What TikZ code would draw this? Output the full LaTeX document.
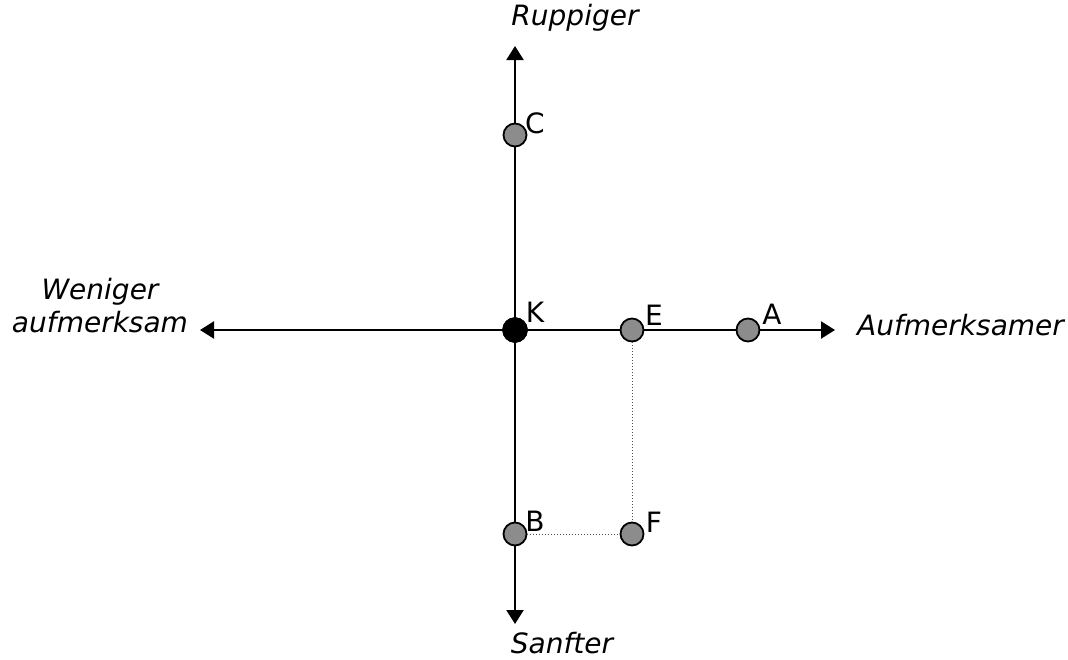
\documentclass[tikz,border=0pt]{standalone}
\usepackage{fontspec}
\setmainfont{DejaVu Sans}
\usetikzlibrary{arrows.meta}
\begin{document}
\begin{tikzpicture}[x=1pt,y=-1pt,
  axis/.style={line width=2.3pt,-{Triangle[length=14pt,width=17pt]}},
  dot/.style={circle,draw=black,line width=1.8pt,fill=black!45,minimum size=23pt,inner sep=0pt},
  kdot/.style={circle,fill=black,draw=black,minimum size=25pt,inner sep=0pt},
  lab/.style={font=\fontsize{28}{32}\selectfont,inner sep=0pt},
  ax/.style={font=\fontsize{28}{33}\selectfont\itshape,inner sep=0pt},
  guide/.style={dotted,line width=1pt,draw=black!70}]
\useasboundingbox (0,0) rectangle (1068,659);
\coordinate (top) at (515,46);
\coordinate (bot) at (515,624);
\coordinate (left) at (200,330);
\coordinate (right) at (835,330);
\node[kdot] (K) at (515,330) {};
\draw[axis] (K.center) -- (top);
\draw[axis] (K.center) -- (bot);
\draw[axis] (K.center) -- (left);
\draw[axis] (K.center) -- (right);
\node[dot] (E) at (632,330) {};
\node[dot] (A) at (748,330) {};
\node[dot] (C) at (515,135) {};
\node[dot] (B) at (515,534) {};
\node[dot] (F) at (632,534) {};
\draw[guide] (E) -- (F);
\draw[guide] (B) -- (F);
\node[kdot] at (515,330) {};
\node[lab] (lC) at (535,123) {C};
\node[lab] (lK) at (535,312) {K};
\node[lab] (lE) at (654,315) {E};
\node[lab] (lA) at (772,314) {A};
\node[lab] (lB) at (535,521) {B};
\node[lab] (lF) at (654,522) {F};
\node[ax] (tR) at (575,18) {Ruppiger};
\node[ax] (tS) at (562,643) {Sanfter};
\node[ax,anchor=west] (tA) at (857,325) {Aufmerksamer};
\node[ax,align=center] (tW) at (100,306) {Weniger\\aufmerksam};
\end{tikzpicture}
\end{document}
